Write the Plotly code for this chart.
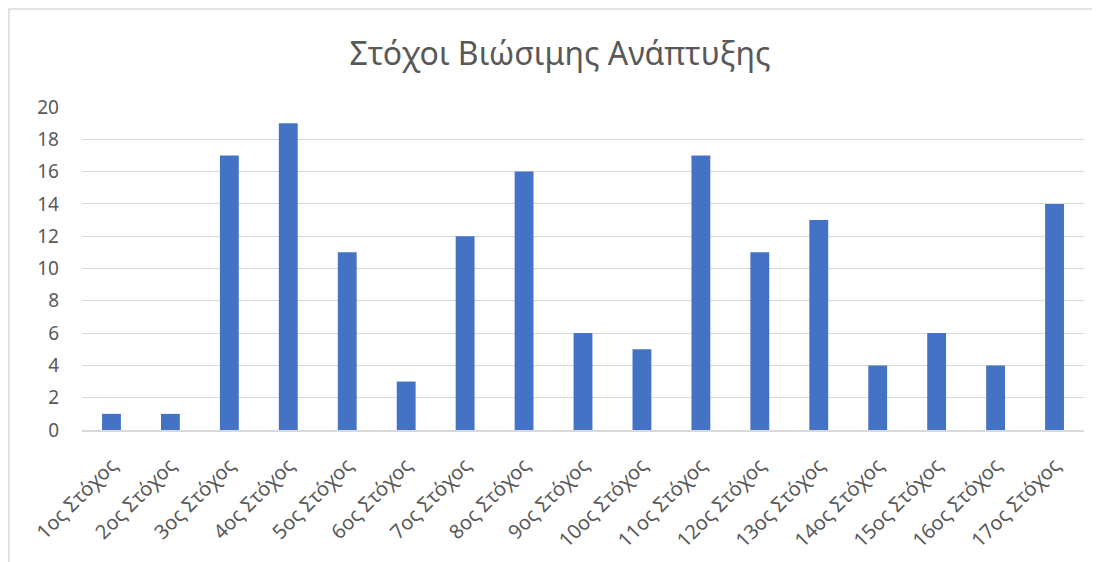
import plotly.graph_objects as go

# Sustainable development goals count
categories = [f"{i}ος Στόχος" for i in range(1, 18)]
values = [1, 1, 17, 19, 11, 3, 12, 16, 6, 5, 17, 11, 13, 4, 6, 4, 14]
y_ticks = list(range(0, 21, 2))

TEXT = '#595959'
GRID = '#d9d9d9'
FONT = 'Noto Sans'

# page body has an 8px margin, so the figure is sized to fit the window
W, H = 1084, 554
PLOT_W, PLOT_H = 1002, 323

fig = go.Figure(go.Bar(
    x=categories, y=values,
    marker=dict(color='#4472C4', line=dict(width=0)),
))

fig.update_layout(
    width=W, height=H,
    paper_bgcolor='white', plot_bgcolor='white',
    margin=dict(l=74, r=8, t=99, b=132),
    bargap=0.68,
    showlegend=False,
    title=dict(text='Στόχοι Βιώσιμης Ανάπτυξης', x=0.5 + 10 / W, xanchor='center',
               y=1 - 46 / H, yanchor='middle',
               font=dict(family=FONT, size=32, color=TEXT)),
    font=dict(family=FONT, color=TEXT),
    xaxis=dict(tickangle=-45, tickfont=dict(size=20, color=TEXT),
               showline=True, linecolor=GRID, linewidth=1.5,
               showgrid=False, ticks='', ticklen=0, ticklabelstandoff=14),
    yaxis=dict(range=[0, 20], tickvals=y_ticks, tickfont=dict(size=19, color=TEXT),
               showgrid=True, gridcolor=GRID, gridwidth=1,
               zeroline=False, ticks='', ticklabelstandoff=22),
    shapes=[dict(type='rect', xref='paper', yref='paper',
                 x0=-73 / PLOT_W, x1=1.2, y0=-1, y1=1 + 98 / PLOT_H,
                 line=dict(color=GRID, width=1.5), layer='below')],
)

fig.write_html("out.html")
